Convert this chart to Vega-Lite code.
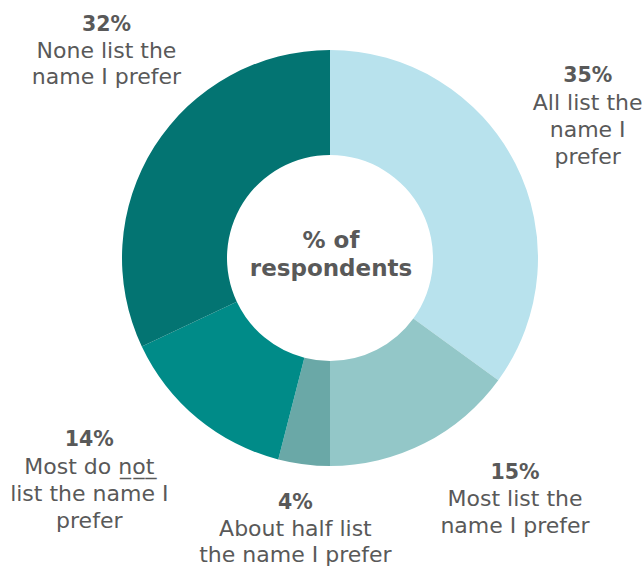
{
  "$schema": "https://vega.github.io/schema/vega-lite/v6.json",
  "width": 628,
  "height": 516,
  "autosize": {"type": "none"},
  "padding": {"left": 16, "top": 0, "right": 0, "bottom": 51},
  "background": "white",
  "view": {"stroke": null},
  "config": {
    "text": {"font": "DejaVu Sans", "color": "#595959", "lineBreak": "\n", "baseline": "alphabetic", "align": "center"}
  },
  "data": {
    "values": [
      {"category": "All", "value": 35, "order": 1, "pct": "35%", "desc": "All list the\nname I\nprefer"},
      {"category": "Most", "value": 15, "order": 2, "pct": "15%", "desc": "Most list the\nname I prefer"},
      {"category": "Half", "value": 4, "order": 3, "pct": "4%", "desc": "About half list\nthe name I prefer"},
      {"category": "MostNot", "value": 14, "order": 4, "pct": "14%", "desc": "Most do n̲o̲t̲\nlist the name I\nprefer"},
      {"category": "None", "value": 32, "order": 5, "pct": "32%", "desc": "None list the\nname I prefer"}
    ]
  },
  "layer": [
    {
      "mark": {"type": "arc", "innerRadius": 103, "outerRadius": 208},
      "encoding": {
        "theta": {"field": "value", "type": "quantitative", "stack": true},
        "order": {"field": "order", "type": "quantitative"},
        "color": {
          "field": "category", "type": "nominal",
          "scale": {"domain": ["All", "Most", "Half", "MostNot", "None"], "range": ["#b8e2ed", "#93c7c8", "#6aa8a7", "#008b88", "#037472"]},
          "legend": null
        }
      }
    },
    {
      "encoding": {
        "theta": {"field": "value", "type": "quantitative", "stack": true},
        "order": {"field": "order", "type": "quantitative"},
        "detail": {"field": "category", "type": "nominal"}
      },
      "layer": [
        {"mark": {"type": "text", "radius": 260, "fontWeight": "bold", "fontSize": 20.5, "dx": 26, "dy": -58},
         "encoding": {"text": {"condition": {"test": "datum.category === 'All'", "field": "pct"}, "value": ""}}},
        {"mark": {"type": "text", "radius": 260, "fontSize": 22, "lineHeight": 27, "dx": 26, "dy": -30},
         "encoding": {"text": {"condition": {"test": "datum.category === 'All'", "field": "desc"}, "value": ""}}},
        {"mark": {"type": "text", "radius": 260, "fontWeight": "bold", "fontSize": 20.5, "dx": 67, "dy": -11},
         "encoding": {"text": {"condition": {"test": "datum.category === 'Most'", "field": "pct"}, "value": ""}}},
        {"mark": {"type": "text", "radius": 260, "fontSize": 22, "lineHeight": 27, "dx": 67, "dy": 16},
         "encoding": {"text": {"condition": {"test": "datum.category === 'Most'", "field": "desc"}, "value": ""}}},
        {"mark": {"type": "text", "radius": 260, "fontWeight": "bold", "fontSize": 20.5, "dx": -2, "dy": -7},
         "encoding": {"text": {"condition": {"test": "datum.category === 'Half'", "field": "pct"}, "value": ""}}},
        {"mark": {"type": "text", "radius": 260, "fontSize": 22, "lineHeight": 26, "dx": -2, "dy": 20},
         "encoding": {"text": {"condition": {"test": "datum.category === 'Half'", "field": "desc"}, "value": ""}}},
        {"mark": {"type": "text", "radius": 260, "fontWeight": "bold", "fontSize": 20.5, "dx": -75, "dy": -12},
         "encoding": {"text": {"condition": {"test": "datum.category === 'MostNot'", "field": "pct"}, "value": ""}}},
        {"mark": {"type": "text", "radius": 260, "fontSize": 22, "lineHeight": 27, "dx": -75, "dy": 16},
         "encoding": {"text": {"condition": {"test": "datum.category === 'MostNot'", "field": "desc"}, "value": ""}}},
        {"mark": {"type": "text", "radius": 260, "fontWeight": "bold", "fontSize": 20.5, "dx": -4, "dy": -88},
         "encoding": {"text": {"condition": {"test": "datum.category === 'None'", "field": "pct"}, "value": ""}}},
        {"mark": {"type": "text", "radius": 260, "fontSize": 22, "lineHeight": 26, "dx": -4, "dy": -61},
         "encoding": {"text": {"condition": {"test": "datum.category === 'None'", "field": "desc"}, "value": ""}}}
      ]
    },
    {
      "data": {"values": [{"label": "% of\nrespondents"}]},
      "mark": {"type": "text", "fontWeight": "bold", "fontSize": 23, "lineHeight": 28, "dy": -10, "dx": 1},
      "encoding": {"text": {"field": "label"}}
    }
  ]
}
